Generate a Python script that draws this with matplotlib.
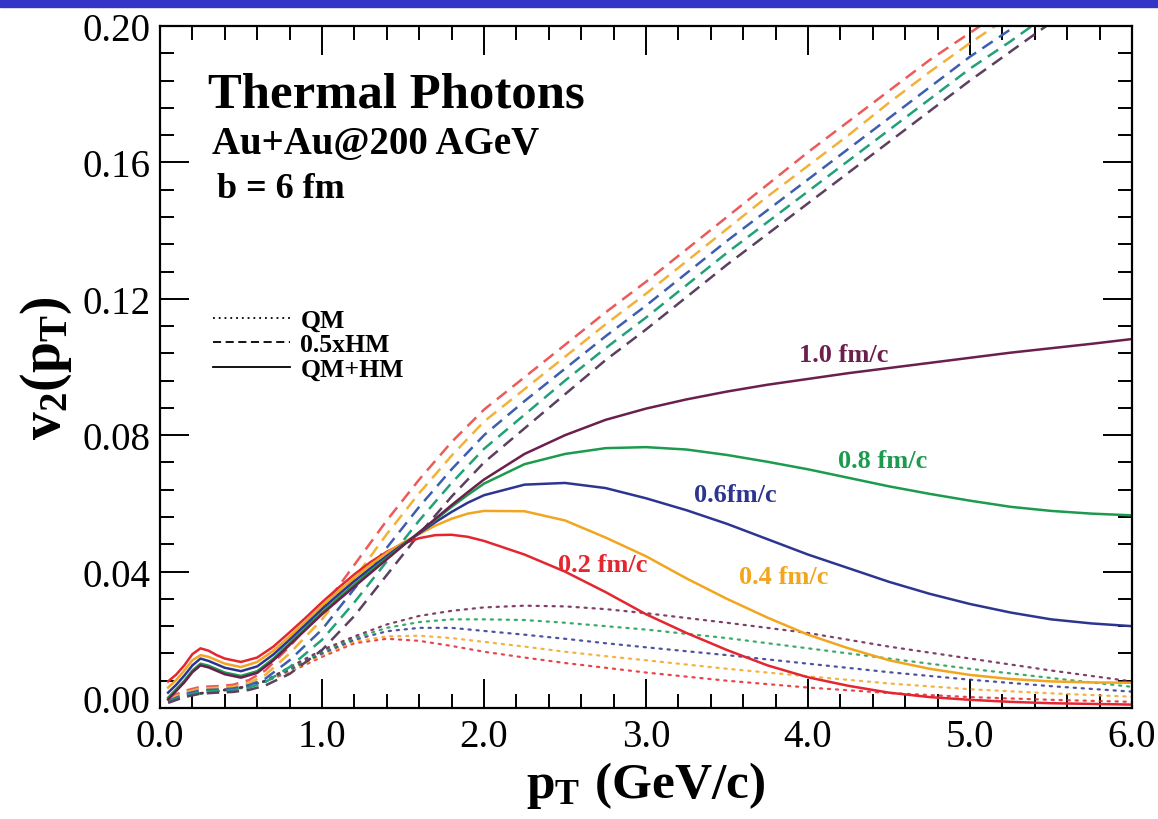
import numpy as np
import matplotlib
matplotlib.use("Agg")
import matplotlib.pyplot as plt
import matplotlib.transforms as mtransforms
from matplotlib.ticker import MultipleLocator, FormatStrFormatter
from matplotlib.lines import Line2D

plt.rcParams['font.family'] = ['Liberation Serif', 'DejaVu Serif']
plt.rcParams['mathtext.fontset'] = 'custom'
plt.rcParams['mathtext.rm'] = 'Liberation Serif:bold'
plt.rcParams['mathtext.it'] = 'Liberation Serif:bold'
plt.rcParams['mathtext.bf'] = 'Liberation Serif:bold'

# ---- data -------------------------------------------------------------
times = ["0.2", "0.4", "0.6", "0.8", "1.0"]          # formation time, fm/c
colors = ["#e3262f", "#f2a51f", "#2e3590", "#1c9a4e", "#6a1f4c"]
dash_colors = ["#ec5a5a", "#f2b13a", "#3d5db0", "#22a07a", "#5b4060"]
label_text = ["0.2 fm/c", "0.4 fm/c", "0.6fm/c", "0.8 fm/c", "1.0 fm/c"]
label_pt = [2.73, 3.85, 3.55, 4.46, 4.22]
label_v2 = [0.0420, 0.0385, 0.0625, 0.0727, 0.1038]

# QM+HM (solid)
pt_s = [0.05, 0.1, 0.15, 0.2, 0.25, 0.3, 0.35, 0.4, 0.5, 0.6, 0.7, 0.8, 0.9,
        1.0, 1.1, 1.2, 1.3, 1.4, 1.5, 1.6, 1.7, 1.8, 1.9, 2.0, 2.25, 2.5,
        2.75, 3.0, 3.25, 3.5, 3.75, 4.0, 4.25, 4.5, 4.75, 5.0, 5.25, 5.5,
        5.75, 6.0]
v2_s_02 = [0.0078, 0.0098, 0.0125, 0.0158, 0.0175, 0.0168, 0.0155, 0.0145,
           0.0135, 0.0148, 0.0180, 0.0222, 0.0265, 0.0310, 0.0352, 0.0392,
           0.0428, 0.0458, 0.0482, 0.0498, 0.0507, 0.0508, 0.0502, 0.0490,
           0.0450, 0.0400, 0.0340, 0.0275, 0.0220, 0.0170, 0.0125, 0.0090,
           0.0065, 0.0045, 0.0032, 0.0024, 0.0018, 0.0014, 0.0012, 0.0010]
v2_s_04 = [0.0060, 0.0082, 0.0110, 0.0140, 0.0155, 0.0150, 0.0140, 0.0130,
           0.0120, 0.0135, 0.0168, 0.0210, 0.0255, 0.0300, 0.0342, 0.0382,
           0.0420, 0.0455, 0.0485, 0.0510, 0.0535, 0.0555, 0.0570, 0.0578,
           0.0577, 0.0550, 0.0500, 0.0445, 0.0380, 0.0320, 0.0265, 0.0215,
           0.0175, 0.0140, 0.0115, 0.0097, 0.0085, 0.0078, 0.0075, 0.0074]
v2_s_06 = [0.0045, 0.0068, 0.0095, 0.0125, 0.0145, 0.0138, 0.0128, 0.0118,
           0.0108, 0.0122, 0.0157, 0.0200, 0.0245, 0.0290, 0.0332, 0.0372,
           0.0410, 0.0446, 0.0480, 0.0512, 0.0545, 0.0575, 0.0602, 0.0624,
           0.0655, 0.0660, 0.0645, 0.0615, 0.0580, 0.0540, 0.0495, 0.0450,
           0.0410, 0.0370, 0.0335, 0.0305, 0.0280, 0.0260, 0.0248, 0.0240]
v2_s_08 = [0.0030, 0.0055, 0.0080, 0.0110, 0.0130, 0.0124, 0.0114, 0.0104,
           0.0094, 0.0108, 0.0145, 0.0190, 0.0235, 0.0280, 0.0322, 0.0362,
           0.0402, 0.0440, 0.0478, 0.0515, 0.0552, 0.0590, 0.0625, 0.0658,
           0.0715, 0.0745, 0.0762, 0.0765, 0.0758, 0.0742, 0.0722, 0.0700,
           0.0675, 0.0650, 0.0628, 0.0608, 0.0590, 0.0578, 0.0570, 0.0565]
v2_s_10 = [0.0025, 0.0050, 0.0075, 0.0105, 0.0125, 0.0119, 0.0109, 0.0099,
           0.0089, 0.0103, 0.0140, 0.0185, 0.0230, 0.0275, 0.0316, 0.0356,
           0.0396, 0.0436, 0.0476, 0.0515, 0.0555, 0.0595, 0.0633, 0.0670,
           0.0745, 0.0800, 0.0845, 0.0878, 0.0905, 0.0928, 0.0948, 0.0965,
           0.0982, 0.0997, 0.1012, 0.1027, 0.1042, 0.1055, 0.1068, 0.1082]

# 0.5 x HM (dashed)
pt_d = [0.05, 0.15, 0.25, 0.35, 0.45, 0.55, 0.65, 0.8, 1.0, 1.2, 1.4, 1.6,
        1.8, 2.0, 2.25, 2.5, 2.75, 3.0, 3.25, 3.5, 3.75, 4.0, 4.25, 4.5,
        4.75, 5.0, 5.25, 5.5, 5.75]
v2_d_02 = [0.0030, 0.0050, 0.0062, 0.0064, 0.0068, 0.0082, 0.0110, 0.0180,
           0.0290, 0.0420, 0.0550, 0.0670, 0.0780, 0.0875, 0.0970, 0.1065,
           0.1160, 0.1250, 0.1345, 0.1440, 0.1535, 0.1630, 0.1720, 0.1810,
           0.1900, 0.1980, 0.2060, 0.2140, 0.2210]
v2_d_04 = [0.0025, 0.0045, 0.0057, 0.0059, 0.0062, 0.0074, 0.0097, 0.0160,
           0.0260, 0.0380, 0.0510, 0.0630, 0.0740, 0.0840, 0.0935, 0.1030,
           0.1125, 0.1215, 0.1310, 0.1405, 0.1500, 0.1590, 0.1680, 0.1775,
           0.1865, 0.1950, 0.2030, 0.2110, 0.2180]
v2_d_06 = [0.0020, 0.0040, 0.0052, 0.0054, 0.0057, 0.0067, 0.0086, 0.0140,
           0.0230, 0.0350, 0.0470, 0.0590, 0.0700, 0.0800, 0.0900, 0.0995,
           0.1090, 0.1180, 0.1275, 0.1370, 0.1460, 0.1550, 0.1640, 0.1730,
           0.1820, 0.1910, 0.1990, 0.2070, 0.2150]
v2_d_08 = [0.0018, 0.0036, 0.0047, 0.0050, 0.0052, 0.0060, 0.0076, 0.0120,
           0.0200, 0.0310, 0.0430, 0.0550, 0.0660, 0.0760, 0.0860, 0.0960,
           0.1055, 0.1145, 0.1240, 0.1335, 0.1425, 0.1515, 0.1605, 0.1695,
           0.1785, 0.1875, 0.1955, 0.2040, 0.2120]
v2_d_10 = [0.0015, 0.0032, 0.0042, 0.0045, 0.0047, 0.0053, 0.0066, 0.0100,
           0.0170, 0.0270, 0.0390, 0.0510, 0.0620, 0.0720, 0.0820, 0.0920,
           0.1020, 0.1110, 0.1205, 0.1300, 0.1390, 0.1480, 0.1570, 0.1660,
           0.1750, 0.1840, 0.1925, 0.2010, 0.2090]

# QM (dotted)
pt_q = [0.2, 0.35, 0.5, 0.65, 0.8, 1.0, 1.2, 1.4, 1.6, 1.8, 2.0, 2.25, 2.5,
        2.75, 3.0, 3.5, 4.0, 4.5, 5.0, 5.5, 6.0]
v2_q_02 = [0.0040, 0.0050, 0.0060, 0.0078, 0.0105, 0.0150, 0.0190, 0.0203,
           0.0197, 0.0182, 0.0165, 0.0148, 0.0132, 0.0118, 0.0104, 0.0080,
           0.0060, 0.0044, 0.0032, 0.0024, 0.0018]
v2_q_04 = [0.0040, 0.0050, 0.0060, 0.0078, 0.0108, 0.0155, 0.0195, 0.0210,
           0.0212, 0.0205, 0.0194, 0.0180, 0.0165, 0.0152, 0.0140, 0.0115,
           0.0093, 0.0072, 0.0055, 0.0043, 0.0033]
v2_q_06 = [0.0040, 0.0050, 0.0060, 0.0078, 0.0112, 0.0160, 0.0200, 0.0225,
           0.0235, 0.0235, 0.0226, 0.0215, 0.0203, 0.0190, 0.0178, 0.0155,
           0.0130, 0.0105, 0.0083, 0.0064, 0.0048]
v2_q_08 = [0.0038, 0.0048, 0.0058, 0.0078, 0.0115, 0.0165, 0.0205, 0.0235,
           0.0252, 0.0260, 0.0260, 0.0258, 0.0250, 0.0240, 0.0230, 0.0205,
           0.0175, 0.0145, 0.0115, 0.0088, 0.0062]
v2_q_10 = [0.0040, 0.0050, 0.0060, 0.0080, 0.0120, 0.0170, 0.0210, 0.0245,
           0.0270, 0.0285, 0.0295, 0.0300, 0.0298, 0.0290, 0.0278, 0.0250,
           0.0220, 0.0180, 0.0145, 0.0110, 0.0078]

solid = [v2_s_02, v2_s_04, v2_s_06, v2_s_08, v2_s_10]
dashed = [v2_d_02, v2_d_04, v2_d_06, v2_d_08, v2_d_10]
dotted = [v2_q_02, v2_q_04, v2_q_06, v2_q_08, v2_q_10]

x_ticks = [0.0, 1.0, 2.0, 3.0, 4.0, 5.0, 6.0]
y_ticks = [0.00, 0.04, 0.08, 0.12, 0.16, 0.20]

# ---- figure -----------------------------------------------------------
fig = plt.figure(figsize=(11.58, 8.20), dpi=100)
fig.patches.append(plt.Rectangle((0, 1 - 8 / 820), 1, 8 / 820,
                                 transform=fig.transFigure,
                                 color="#3434c8", zorder=0))
ax = fig.add_axes([160 / 1158, 1 - 709 / 820, 972 / 1158, 682 / 820])

for i in range(5):
    ax.plot(pt_q, dotted[i], color=colors[i], lw=1.6,
            linestyle=(0, (1.0, 2.6)), dash_capstyle='round', alpha=0.85)
for i in range(5):
    ax.plot(pt_d, dashed[i], color=dash_colors[i], lw=1.8,
            linestyle=(0, (5.0, 3.0)))
for i in range(5):
    ax.plot(pt_s, solid[i], color=colors[i], lw=1.8)

for i in range(5):
    ax.text(label_pt[i], label_v2[i], label_text[i], color=colors[i],
            fontsize=19, fontweight='bold', ha='center', va='center')

ax.set_xlim(0, 6.0)
ax.set_ylim(0, 0.20)
ax.set_xticks(x_ticks)
ax.set_yticks(y_ticks)
ax.xaxis.set_minor_locator(MultipleLocator(0.2))
ax.yaxis.set_minor_locator(MultipleLocator(0.008))
ax.xaxis.set_major_formatter(FormatStrFormatter('%.1f'))
ax.yaxis.set_major_formatter(FormatStrFormatter('%.2f'))
ax.tick_params(which='both', direction='in', top=True, right=True,
               width=1.4, labelsize=28, color='black')
ax.tick_params(which='major', length=21, pad=7)
ax.tick_params(which='minor', length=10)
for s in ax.spines.values():
    s.set_linewidth(1.6)

# lift the "0.00" label clear of the x-axis labels
zero_lab = ax.yaxis.get_major_ticks()[0].label1
zero_lab.set_transform(zero_lab.get_transform() +
                       mtransforms.ScaledTranslation(0, 10 / 100, fig.dpi_scale_trans))

ax.set_xlabel(r'$\mathrm{p_T\ (GeV/c)}$', fontsize=37, labelpad=3)
ax.set_ylabel(r'$\mathrm{v_2(p_T)}$', fontsize=40, labelpad=6)

ax.text(0.049, 0.900, 'Thermal Photons', transform=ax.transAxes,
        fontsize=36.5, fontweight='bold', va='center', ha='left')
ax.text(0.054, 0.827, 'Au+Au@200 AGeV', transform=ax.transAxes,
        fontsize=28, fontweight='bold', va='center', ha='left')
ax.text(0.059, 0.761, 'b = 6 fm', transform=ax.transAxes,
        fontsize=26, fontweight='bold', va='center', ha='left')

# line-style key
key = [((0, (1.0, 2.2)), 'QM'), ((0, (4.5, 2.5)), '0.5xHM'), ('-', 'QM+HM')]
handles = [Line2D([], [], color='black', lw=1.3, linestyle=ls) for ls, _ in key]
leg = ax.legend(handles, [t for _, t in key], loc='upper left',
                bbox_to_anchor=(0.044, 0.60), frameon=False,
                prop={'family': 'Liberation Serif', 'weight': 'bold', 'size': 18.5},
                handlelength=3.0, handletextpad=0.4, labelspacing=0.05,
                borderaxespad=0)

fig.savefig('out.png', dpi=100)
